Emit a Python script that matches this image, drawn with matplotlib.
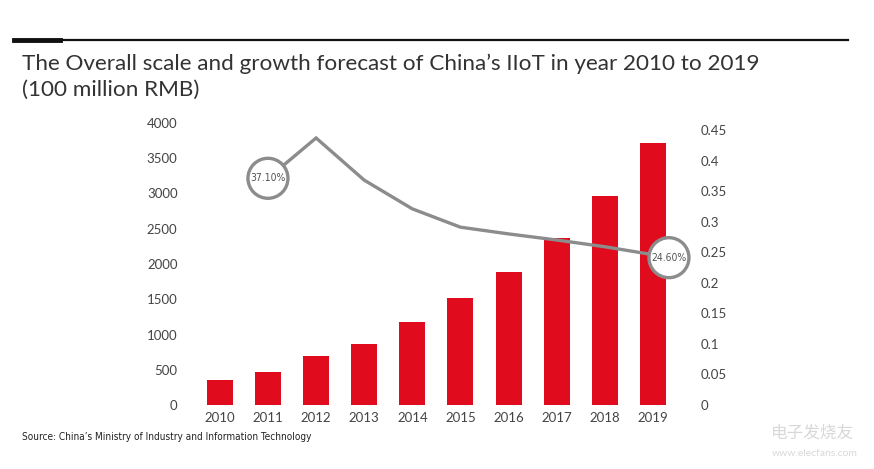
import matplotlib.pyplot as plt
from matplotlib.patches import Circle
from matplotlib.lines import Line2D

years = ['2010', '2011', '2012', '2013', '2014', '2015', '2016', '2017', '2018', '2019']
scale = [355, 468, 695, 865, 1177, 1518, 1886, 2369, 2965, 3716]
growth = [None, 0.371, 0.437, 0.368, 0.321, 0.291, 0.280, 0.270, 0.259, 0.246]
left_ticks = [0, 500, 1000, 1500, 2000, 2500, 3000, 3500, 4000]
right_ticks = [0, 0.05, 0.1, 0.15, 0.2, 0.25, 0.3, 0.35, 0.4, 0.45]

plt.rcParams['font.family'] = ['Lato', 'DejaVu Sans']
red = '#e00b1c'
grey = '#8c8c8c'
txt = '#444444'

fig = plt.figure(figsize=(8.74, 4.69), dpi=100)
ax = fig.add_axes([190 / 874, 64 / 469, 500 / 874, 282 / 469])
ax2 = ax.twinx()

x = list(range(len(years)))
ax.bar(x, scale, width=0.54, color=red, zorder=2)
ax.set_xlim(-0.62, 9.77)
ax.set_ylim(0, 4000)
ax.set_xticks(x)
ax.set_xticklabels(years)
ax.set_yticks(left_ticks)
ax.set_yticklabels([str(v) for v in left_ticks])

# growth line from 2011 on
gx = [i for i, g in zip(x, growth) if g is not None]
gy = [g for g in growth if g is not None]
ax2.plot(gx, gy, color=grey, lw=2.4, zorder=3, solid_joinstyle='miter')
ax2.set_ylim(0, 0.4615)
ax2.set_yticks(right_ticks)
ax2.set_yticklabels([f'{v:g}' for v in right_ticks])

for a in (ax, ax2):
    for s in a.spines.values():
        s.set_visible(False)
    a.tick_params(length=0, colors=txt, labelsize=9.5)
ax.tick_params(axis='y', pad=9)
ax.tick_params(axis='x', pad=5)
ax2.tick_params(axis='y', pad=8)

narrow = ['DejaVu Sans']


def callout(xc, yc, label):
    c = Circle((xc, yc), radius=20, transform=None, facecolor='white',
               edgecolor=grey, lw=2.4, zorder=5)
    fig.add_artist(c)
    fig.text(xc / 874, yc / 469, label, ha='center', va='center',
             fontsize=7.5, color='#555555', family=narrow, fontstretch='condensed',
             zorder=6)


fig.canvas.draw()
p1 = ax2.transData.transform((1, growth[1]))
callout(p1[0], p1[1], '37.10%')
p9 = ax2.transData.transform((9, growth[9]))
callout(p9[0] + 16, p9[1] - 3, '24.60%')

# header rule and title
fig.add_artist(Line2D([14 / 874, 848 / 874], [1 - 40 / 469] * 2, color='#111111', lw=1.6))
fig.add_artist(Line2D([14 / 874, 60 / 874], [1 - 40 / 469] * 2, color='#111111', lw=3.5))
fig.text(22 / 874, 1 - 64 / 469, 'The Overall scale and growth forecast of China\u2019s IIoT in year 2010 to 2019',
         fontsize=16.2, color='#333333', va='center', ha='left')
fig.text(22 / 874, 1 - 90 / 469, '(100 million RMB)', fontsize=16.2, color='#333333',
         va='center', ha='left')
fig.text(22 / 874, 1 - 437 / 469, 'Source: China\u2019s Ministry of Industry and Information Technology',
         fontsize=7.2, color='#222222', va='center', ha='left',
         family=narrow, fontstretch='condensed')

# watermark
fig.text(812 / 874, 1 - 433 / 469, '电子发烧友', fontsize=12, color='#d8d8d8', ha='center',
         va='center', family=['Noto Sans CJK SC', 'DejaVu Sans'], style='italic')
fig.text(815 / 874, 1 - 453 / 469, 'www.elecfans.com', fontsize=7.5, color='#d8d8d8',
         ha='center', va='center')

fig.savefig('out.png', dpi=100)
